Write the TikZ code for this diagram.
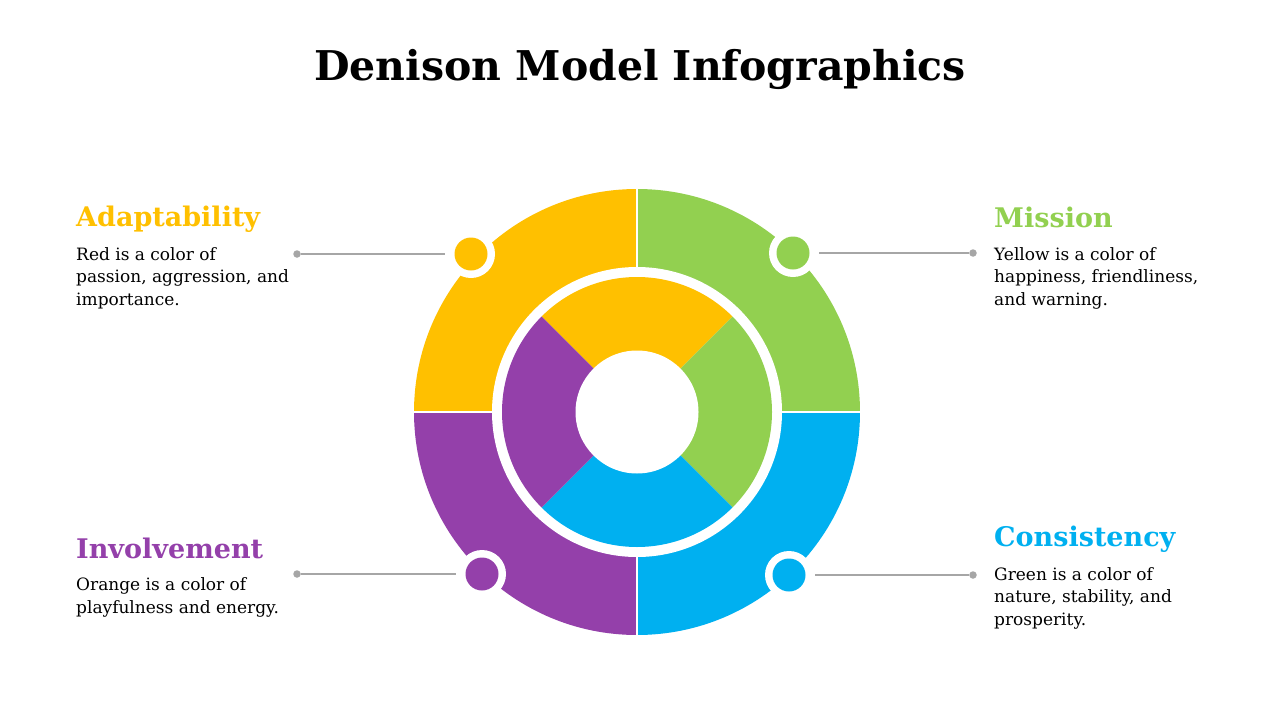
\documentclass[tikz,border=0pt]{standalone}
\usepackage{fontspec}
\setmainfont{DejaVu Serif}
\definecolor{cY}{HTML}{FFC000}
\definecolor{cG}{HTML}{92D050}
\definecolor{cB}{HTML}{00B0F0}
\definecolor{cP}{HTML}{9440AA}
\definecolor{cL}{HTML}{A6A6A6}
\begin{document}
\begin{tikzpicture}[x=1pt,y=-1pt,
  notch/.style={circle,fill=white,minimum size=48pt,inner sep=0pt},
  pdot/.style={circle,fill=#1,minimum size=33pt,inner sep=0pt},
  lead/.style={circle,fill=cL,minimum size=7.5pt,inner sep=0pt},
  leader/.style={draw=cL,line width=1.5pt,shorten >=2pt},
  head/.style={font=\fontsize{27}{32}\selectfont\bfseries,text=#1,anchor=base west,inner sep=0pt},
  body/.style={font=\fontsize{17}{22.3}\selectfont,align=left,anchor=base west,inner sep=0pt},
  gap/.style={white,line width=2.5pt}]
\useasboundingbox (0,0) rectangle (1280,720);
\fill[white] (0,0) rectangle (1280,720);
\coordinate (c) at (637,412);
% title
\node[font=\fontsize{41}{48}\selectfont\bfseries,anchor=base,inner sep=0pt] (title) at (640,80) {Denison Model Infographics};
% outer ring
\fill[cY] (c) -- ++(180:223) arc[start angle=180,end angle=270,radius=223] -- cycle;
\fill[cG] (c) -- ++(270:223) arc[start angle=270,end angle=360,radius=223] -- cycle;
\fill[cB] (c) -- ++(0:223) arc[start angle=0,end angle=90,radius=223] -- cycle;
\fill[cP] (c) -- ++(90:223) arc[start angle=90,end angle=180,radius=223] -- cycle;
\draw[gap] (637,186) -- (637,638);
\draw[gap] (411,412) -- (863,412);
\fill[white] (c) circle[radius=145];
% inner ring
\fill[cY] (c) -- ++(225:135) arc[start angle=225,end angle=315,radius=135] -- cycle;
\fill[cG] (c) -- ++(-45:135) arc[start angle=-45,end angle=45,radius=135] -- cycle;
\fill[cB] (c) -- ++(45:135) arc[start angle=45,end angle=135,radius=135] -- cycle;
\fill[cP] (c) -- ++(135:135) arc[start angle=135,end angle=225,radius=135] -- cycle;
\fill[white] (c) circle[radius=61.5];
% dots
\node[notch] (nA) at (471,254) {};
\node[pdot=cY] (dA) at (471,254) {};
\node[notch] (nM) at (793,253) {};
\node[pdot=cG] (dM) at (793,253) {};
\node[notch] (nI) at (482,574) {};
\node[pdot=cP] (dI) at (482,574) {};
\node[notch] (nC) at (789,575) {};
\node[pdot=cB] (dC) at (789,575) {};
% leaders
\node[lead] (lA) at (297,254) {};
\node[lead] (lM) at (973,253) {};
\node[lead] (lI) at (297,574) {};
\node[lead] (lC) at (973,575) {};
\draw[leader] (lA) -- (nA);
\draw[leader] (lM) -- (nM);
\draw[leader] (lI) -- (nI);
\draw[leader] (lC) -- (nC);
% texts (body anchors at the baseline of the last line)
\node[head=cY] (hA) at (76,226) {Adaptability};
\node[body] (bA) at (76,305) {Red is a color of\\passion, aggression, and\\importance.};
\node[head=cG] (hM) at (994,227) {Mission};
\node[body] (bM) at (994,305) {Yellow is a color of\\happiness, friendliness,\\and warning.};
\node[head=cP] (hI) at (76,558) {Involvement};
\node[body] (bI) at (76,613) {Orange is a color of\\playfulness and energy.};
\node[head=cB] (hC) at (994,546) {Consistency};
\node[body] (bC) at (994,625) {Green is a color of\\nature, stability, and\\prosperity.};
\end{tikzpicture}
\end{document}
